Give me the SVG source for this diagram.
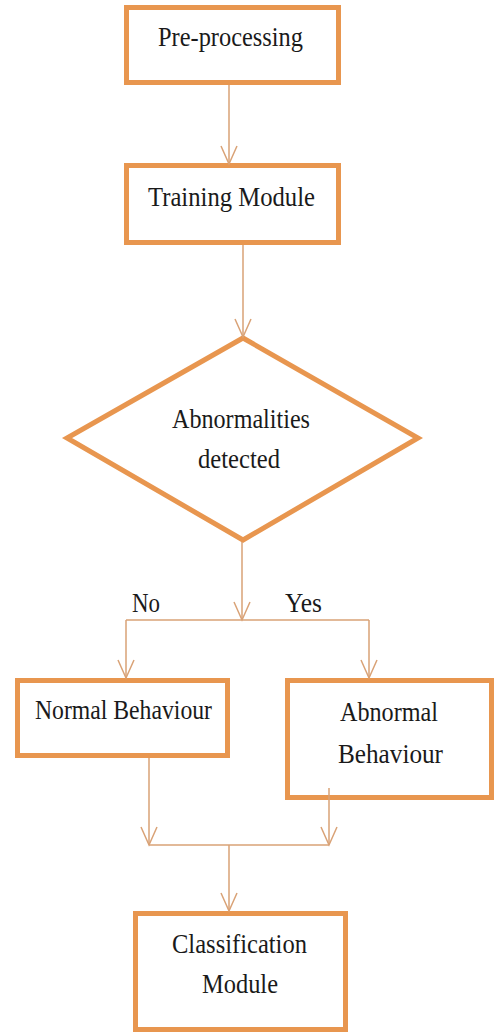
<svg xmlns="http://www.w3.org/2000/svg" width="496" height="1036" viewBox="0 0 496 1036">
<style>
.box{fill:#ffffff;stroke:#E8964F;stroke-width:5;}
.con{fill:none;stroke:#D9A276;stroke-width:1.5;}
.t{font-family:"Liberation Serif","Times New Roman",serif;font-size:28px;fill:#1a1a1a;}
</style>
<defs>
<marker id="arr" markerUnits="userSpaceOnUse" viewBox="-20 -10 22 20" markerWidth="22" markerHeight="20" refX="0" refY="0" orient="auto" overflow="visible">
<path d="M-18,-8 L0,0 L-18,8" fill="none" stroke="#D9A276" stroke-width="1.5"/>
</marker>
</defs>
<rect width="496" height="1036" fill="#ffffff"/>
<g id="preprocessing">
<rect class="box" x="126.5" y="7.5" width="212" height="75"/>
<text class="t" x="158" y="46" textLength="145" lengthAdjust="spacingAndGlyphs">Pre-processing</text>
</g>
<g id="training">
<rect class="box" x="126.5" y="165.5" width="212" height="77"/>
<text class="t" x="148" y="206" textLength="167" lengthAdjust="spacingAndGlyphs">Training Module</text>
</g>
<g id="decision">
<polygon class="box" points="243,338 418,438 243,540 67,438"/>
<text class="t" x="172" y="428" textLength="138" lengthAdjust="spacingAndGlyphs">Abnormalities</text>
<text class="t" x="198" y="468" textLength="82" lengthAdjust="spacingAndGlyphs">detected</text>
</g>
<g id="normal">
<rect class="box" x="17.5" y="680.5" width="210" height="75"/>
<text class="t" x="35" y="719" textLength="177" lengthAdjust="spacingAndGlyphs">Normal Behaviour</text>
</g>
<g id="abnormal">
<rect class="box" x="287.5" y="680.5" width="204" height="117"/>
<text class="t" x="340" y="721" textLength="98" lengthAdjust="spacingAndGlyphs">Abnormal</text>
<text class="t" x="338" y="763" textLength="105" lengthAdjust="spacingAndGlyphs">Behaviour</text>
</g>
<g id="classification">
<rect class="box" x="135.5" y="913.5" width="210" height="116"/>
<text class="t" x="172" y="953" textLength="135" lengthAdjust="spacingAndGlyphs">Classification</text>
<text class="t" x="202" y="993" textLength="76" lengthAdjust="spacingAndGlyphs">Module</text>
</g>
<g id="connectors">
<line class="con" x1="229" y1="85" x2="229" y2="164" marker-end="url(#arr)"/>
<line class="con" x1="243" y1="245" x2="243" y2="337" marker-end="url(#arr)"/>
<line class="con" x1="242" y1="542" x2="242" y2="620" marker-end="url(#arr)"/>
<line class="con" x1="126" y1="620" x2="369" y2="620"/>
<line class="con" x1="126" y1="620" x2="126" y2="678" marker-end="url(#arr)"/>
<line class="con" x1="369" y1="620" x2="369" y2="678" marker-end="url(#arr)"/>
<line class="con" x1="149" y1="758" x2="149" y2="845" marker-end="url(#arr)"/>
<line class="con" x1="329" y1="788" x2="329" y2="845" marker-end="url(#arr)"/>
<line class="con" x1="149" y1="845" x2="329" y2="845"/>
<line class="con" x1="229" y1="845" x2="229" y2="911" marker-end="url(#arr)"/>
<text class="t" x="132" y="612" textLength="28" lengthAdjust="spacingAndGlyphs">No</text>
<text class="t" x="285" y="612" textLength="37" lengthAdjust="spacingAndGlyphs">Yes</text>
</g>
</svg>
